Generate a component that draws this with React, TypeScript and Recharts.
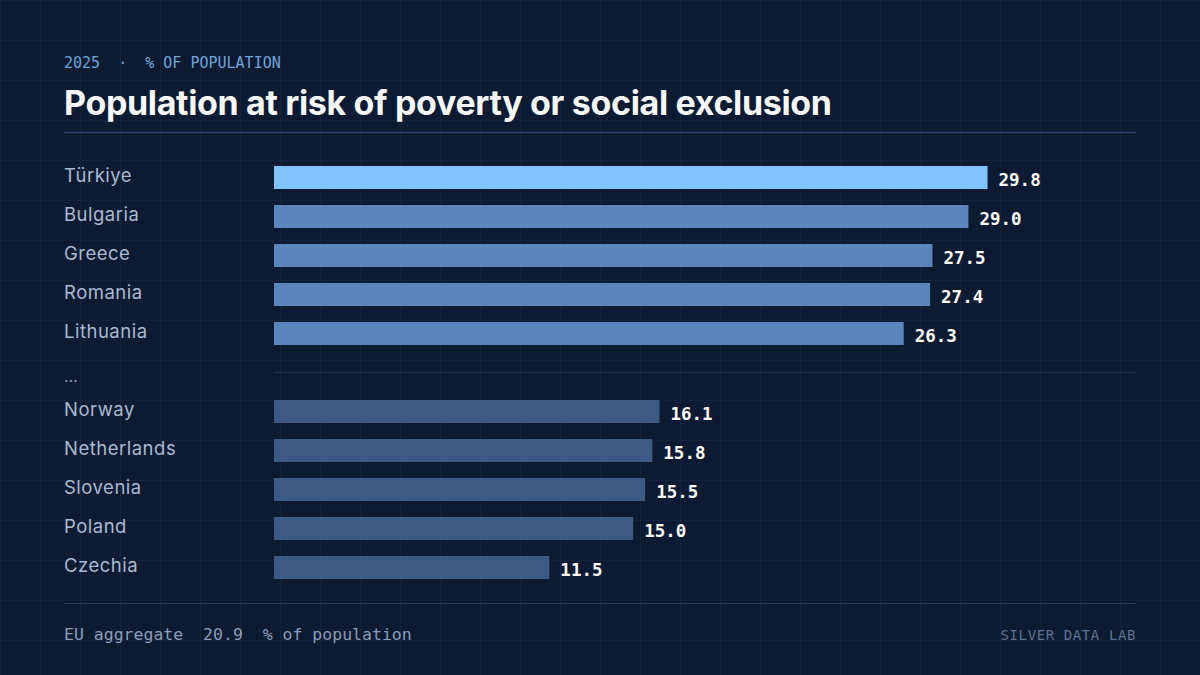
import { BarChart, Bar, XAxis, YAxis, Cell, LabelList, ReferenceLine } from 'recharts';

// rows top to bottom; the ellipsis row separates the highest from the lowest
const countries = ['Türkiye', 'Bulgaria', 'Greece', 'Romania', 'Lithuania', '…', 'Norway', 'Netherlands', 'Slovenia', 'Poland', 'Czechia'];
const rates = [29.8, 29.0, 27.5, 27.4, 26.3, null, 16.1, 15.8, 15.5, 15.0, 11.5];
const groups = ['lead', 'high', 'high', 'high', 'high', 'gap', 'low', 'low', 'low', 'low', 'low'];

const EU_AGGREGATE = 20.9;
const GAP = '…';

const COLORS: Record<string, string> = {
  lead: '#80c3fd',
  high: '#5a86bd',
  low: '#3d5a84',
  gap: 'transparent',
};

const data = countries.map((name, i) => ({ name, value: rates[i], group: groups[i] }));

const MONO = '"DejaVu Sans Mono", "Liberation Mono", monospace';
const SANS = 'Inter, "Noto Sans", sans-serif';

function CountryTick(props: any) {
  const { y, payload } = props;
  if (payload.value === GAP) {
    return (
      <text x={64} y={y + 9} fill="#8fa3c0" fontSize={16} fontFamily={SANS}>
        …
      </text>
    );
  }
  return (
    <text
      x={64}
      y={y}
      dy={4}
      fill="#a9bad4"
      fontSize={18.5}
      fontFamily={SANS}
      letterSpacing={0.5}
      textAnchor="start"
    >
      {payload.value}
    </text>
  );
}

function ValueLabel(props: any) {
  const { x, y, width, height, value } = props;
  if (value == null) return null;
  return (
    <text
      x={x + width + 11}
      y={y + height / 2 + 8}
      fill="#ffffff"
      fontSize={17.5}
      fontWeight={700}
      fontFamily={MONO}
    >
      {Number(value).toFixed(1)}
    </text>
  );
}

export default function App() {
  return (
    <div
      style={{
        position: 'absolute',
        left: 0,
        top: 0,
        width: 1200,
        height: 675,
        backgroundColor: '#0c1a32',
        backgroundImage:
          'linear-gradient(to right, rgba(120,150,200,0.07) 1px, transparent 1px), linear-gradient(to bottom, rgba(120,150,200,0.07) 1px, transparent 1px)',
        backgroundSize: '40px 40px',
        overflow: 'hidden',
      }}
    >
      <svg width={1200} height={675} style={{ position: 'absolute', left: 0, top: 0 }}>
        <text x={64} y={68} fill="#6ea5da" fontSize={15} fontFamily={MONO} xmlSpace="preserve">
          {'2025  ·  % OF POPULATION'}
        </text>
        <text x={64} y={115} fill="#f7f9fc" fontSize={34} fontWeight={700} fontFamily={SANS} letterSpacing={-0.35}>
          Population at risk of poverty or social exclusion
        </text>
        <line x1={64} x2={1136} y1={132.5} y2={132.5} stroke="#2c4066" strokeWidth={1.5} />
        <line x1={64} x2={1136} y1={603.5} y2={603.5} stroke="#23365a" strokeWidth={1} />
        <text x={64} y={640} fill="#8b9dba" fontSize={16.5} fontFamily={MONO} xmlSpace="preserve">
          {`EU aggregate  ${EU_AGGREGATE.toFixed(1)}  % of population`}
        </text>
        <text x={1136} y={640} fill="#5f7394" fontSize={14} fontFamily={MONO} textAnchor="end" letterSpacing={0.6}>
          SILVER DATA LAB
        </text>
      </svg>
      <div style={{ position: 'absolute', left: 0, top: 0 }}>
        <BarChart
          width={1200}
          height={675}
          data={data}
          layout="vertical"
          margin={{ top: 158, right: 64, bottom: 88, left: 64 }}
          barCategoryGap={16}
        >
          <XAxis type="number" domain={[0, 36]} hide />
          <YAxis
            type="category"
            dataKey="name"
            width={210}
            axisLine={false}
            tickLine={false}
            tick={<CountryTick />}
            interval={0}
          />
          <ReferenceLine y={GAP} stroke="#1f3050" strokeWidth={1} />
          <Bar dataKey="value" barSize={23} isAnimationActive={false}>
            {data.map((d, i) => (
              <Cell key={`cell-${i}`} fill={COLORS[d.group]} />
            ))}
            <LabelList dataKey="value" content={<ValueLabel />} />
          </Bar>
        </BarChart>
      </div>
    </div>
  );
}
